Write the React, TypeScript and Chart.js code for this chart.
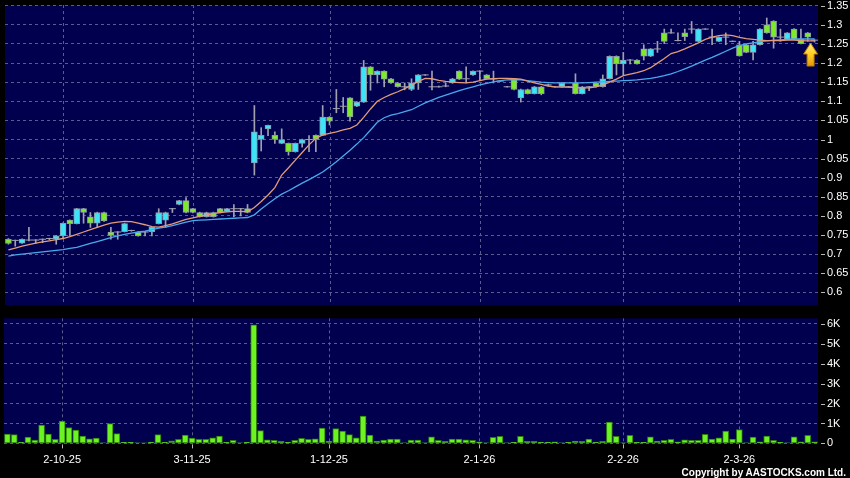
import React, { useEffect, useRef } from 'react';
import { Chart, registerables } from 'chart.js';

Chart.register(...registerables);

// ---------------- DATA ----------------
const dates = [
  '18-9-25','19-9-25','22-9-25','23-9-25','25-9-25','26-9-25','29-9-25','30-9-25',
  '2-10-25','3-10-25','8-10-25','9-10-25','10-10-25','13-10-25','14-10-25','15-10-25','16-10-25','17-10-25',
  '20-10-25','21-10-25','22-10-25','23-10-25','24-10-25','27-10-25','28-10-25','30-10-25','31-10-25',
  '3-11-25','4-11-25','5-11-25','6-11-25','7-11-25','10-11-25','11-11-25','12-11-25','13-11-25','14-11-25',
  '17-11-25','18-11-25','19-11-25','20-11-25','21-11-25','24-11-25','25-11-25','26-11-25','27-11-25','28-11-25',
  '1-12-25','2-12-25','3-12-25','4-12-25','5-12-25','8-12-25','9-12-25','10-12-25','11-12-25','12-12-25',
  '15-12-25','16-12-25','17-12-25','18-12-25','19-12-25','22-12-25','23-12-25','24-12-25','26-12-25',
  '29-12-25','30-12-25','31-12-25',
  '2-1-26','5-1-26','6-1-26','7-1-26','8-1-26','9-1-26','12-1-26','13-1-26','14-1-26','15-1-26','16-1-26',
  '19-1-26','20-1-26','21-1-26','22-1-26','23-1-26','26-1-26','27-1-26','28-1-26','29-1-26','30-1-26',
  '2-2-26','3-2-26','4-2-26','5-2-26','6-2-26','9-2-26','10-2-26','11-2-26','12-2-26','13-2-26','16-2-26',
  '20-2-26','23-2-26','24-2-26','25-2-26','26-2-26','27-2-26',
  '2-3-26','3-3-26','4-3-26','5-3-26','6-3-26','9-3-26','10-3-26','11-3-26','12-3-26','13-3-26','16-3-26','17-3-26',
];

const tickDates = ['2-10-25', '3-11-25', '1-12-25', '2-1-26', '2-2-26', '2-3-26'];

const open = [
  0.739,0.736,0.729,0.737,0.737,0.739,0.741,0.739,0.748,0.789,
  0.780,0.819,0.798,0.781,0.809,0.758,0.758,0.759,0.762,0.758,
  0.758,0.759,0.780,0.789,0.819,0.830,0.840,0.819,0.809,0.798,
  0.809,0.819,0.812,0.819,0.819,0.819,0.939,1.000,1.028,1.011,
  0.990,0.990,0.968,0.990,1.000,1.011,1.011,1.059,1.081,1.087,
  1.109,1.087,1.098,1.190,1.169,1.179,1.159,1.148,1.138,1.131,
  1.148,1.169,1.138,1.138,1.140,1.148,1.179,1.159,1.169,1.179,
  1.169,1.159,1.153,1.138,1.159,1.109,1.131,1.120,1.138,1.143,
  1.138,1.138,1.138,1.148,1.120,1.138,1.148,1.138,1.159,1.218,
  1.198,1.208,1.208,1.237,1.218,1.237,1.279,1.279,1.259,1.279,
  1.289,1.257,1.289,1.268,1.257,1.268,1.257,1.248,1.248,1.228,
  1.248,1.300,1.310,1.268,1.262,1.289,1.262,1.279,1.260,
];
const high = [
  0.741,0.737,0.740,0.770,0.738,0.740,0.742,0.749,0.782,0.790,
  0.820,0.820,0.809,0.810,0.810,0.770,0.759,0.781,0.763,0.759,
  0.759,0.771,0.819,0.810,0.820,0.841,0.848,0.820,0.810,0.810,
  0.810,0.820,0.820,0.830,0.820,0.830,1.089,1.031,1.038,1.020,
  1.028,0.991,0.991,1.001,1.010,1.012,1.089,1.060,1.131,1.110,
  1.110,1.099,1.207,1.191,1.180,1.180,1.160,1.149,1.148,1.159,
  1.170,1.170,1.179,1.140,1.148,1.160,1.180,1.190,1.180,1.180,
  1.170,1.179,1.155,1.139,1.160,1.132,1.132,1.139,1.139,1.145,
  1.139,1.149,1.139,1.172,1.139,1.139,1.149,1.169,1.219,1.219,
  1.228,1.209,1.209,1.248,1.238,1.257,1.289,1.289,1.279,1.289,
  1.309,1.290,1.290,1.289,1.269,1.279,1.258,1.257,1.249,1.257,
  1.290,1.318,1.311,1.289,1.280,1.290,1.289,1.280,1.261,
];
const low = [
  0.726,0.721,0.728,0.735,0.728,0.730,0.738,0.726,0.741,0.748,
  0.779,0.781,0.770,0.770,0.786,0.739,0.739,0.758,0.760,0.747,
  0.748,0.748,0.779,0.770,0.809,0.829,0.808,0.808,0.797,0.797,
  0.797,0.808,0.811,0.798,0.800,0.808,0.907,0.970,1.010,0.990,
  0.989,0.959,0.967,0.980,0.968,0.968,1.010,1.038,1.070,1.070,
  1.048,1.086,1.097,1.129,1.148,1.138,1.147,1.137,1.130,1.128,
  1.131,1.168,1.130,1.137,1.138,1.147,1.157,1.148,1.168,1.155,
  1.158,1.148,1.152,1.137,1.130,1.098,1.119,1.119,1.117,1.140,
  1.137,1.137,1.137,1.119,1.119,1.128,1.137,1.137,1.158,1.169,
  1.169,1.198,1.197,1.208,1.217,1.228,1.251,1.278,1.258,1.259,
  1.278,1.256,1.288,1.248,1.256,1.248,1.256,1.218,1.227,1.208,
  1.247,1.278,1.239,1.257,1.261,1.261,1.250,1.257,1.255,
];
const close = [
  0.728,0.736,0.739,0.737,0.737,0.739,0.741,0.748,0.781,0.780,
  0.819,0.809,0.781,0.809,0.787,0.749,0.758,0.780,0.762,0.748,
  0.758,0.770,0.809,0.809,0.819,0.840,0.809,0.809,0.798,0.809,
  0.798,0.809,0.819,0.819,0.819,0.809,1.020,1.011,1.037,1.000,
  1.000,0.968,0.990,1.000,1.000,1.000,1.059,1.048,1.081,1.087,
  1.059,1.098,1.190,1.169,1.179,1.158,1.148,1.138,1.138,1.148,
  1.169,1.169,1.138,1.138,1.140,1.159,1.158,1.159,1.179,1.179,
  1.159,1.159,1.153,1.138,1.131,1.131,1.120,1.138,1.120,1.143,
  1.138,1.148,1.138,1.120,1.138,1.138,1.138,1.159,1.218,1.198,
  1.208,1.208,1.198,1.218,1.237,1.237,1.257,1.279,1.259,1.269,
  1.289,1.289,1.289,1.268,1.268,1.268,1.257,1.219,1.228,1.248,
  1.289,1.279,1.268,1.268,1.279,1.262,1.251,1.268,1.260,
];

const ma10 = [
  0.711,0.716,0.721,0.725,0.729,0.732,0.735,0.738,0.741,0.746,
  0.752,0.758,0.764,0.770,0.776,0.781,0.784,0.786,0.785,0.781,
  0.777,0.772,0.771,0.775,0.779,0.785,0.791,0.795,0.799,0.803,
  0.806,0.809,0.811,0.812,0.812,0.811,0.822,0.838,0.855,0.874,
  0.907,0.926,0.946,0.966,0.986,1.003,1.012,1.016,1.020,1.025,
  1.029,1.038,1.058,1.080,1.100,1.110,1.118,1.125,1.133,1.142,
  1.152,1.160,1.159,1.155,1.152,1.150,1.149,1.148,1.150,1.154,
  1.158,1.159,1.160,1.160,1.159,1.158,1.153,1.148,1.144,1.140,
  1.138,1.137,1.137,1.136,1.135,1.135,1.138,1.143,1.150,1.158,
  1.167,1.171,1.175,1.180,1.188,1.200,1.212,1.225,1.230,1.237,
  1.245,1.253,1.262,1.268,1.272,1.274,1.272,1.267,1.264,1.262,
  1.260,1.259,1.259,1.259,1.260,1.260,1.259,1.258,1.258,
];
const ma20 = [
  0.695,0.698,0.700,0.702,0.704,0.706,0.708,0.710,0.712,0.715,
  0.718,0.723,0.728,0.733,0.738,0.743,0.748,0.752,0.755,0.758,
  0.760,0.764,0.768,0.771,0.775,0.779,0.784,0.788,0.789,0.790,
  0.791,0.792,0.793,0.794,0.795,0.796,0.803,0.818,0.832,0.845,
  0.857,0.866,0.876,0.886,0.895,0.905,0.915,0.928,0.942,0.957,
  0.972,0.988,1.005,1.025,1.045,1.057,1.064,1.068,1.073,1.078,
  1.087,1.096,1.103,1.110,1.116,1.122,1.128,1.133,1.138,1.143,
  1.147,1.151,1.154,1.156,1.157,1.156,1.154,1.152,1.150,1.149,
  1.148,1.148,1.148,1.148,1.148,1.149,1.150,1.151,1.152,1.153,
  1.154,1.155,1.156,1.158,1.160,1.163,1.167,1.172,1.178,1.185,
  1.192,1.200,1.208,1.215,1.223,1.231,1.239,1.246,1.250,1.253,
  1.256,1.258,1.260,1.261,1.262,1.263,1.263,1.263,1.263,
];

// volume in thousands of shares
const volume = [
  0.47,0.44,0.05,0.32,0.17,0.92,0.47,0.20,1.12,0.79,
  0.67,0.37,0.23,0.27,0.03,0.99,0.49,0.05,0.05,0.03,
  0.01,0.07,0.44,0.05,0.13,0.20,0.42,0.27,0.20,0.20,
  0.28,0.37,0.05,0.15,0.02,0.07,5.95,0.64,0.18,0.15,
  0.10,0.05,0.15,0.25,0.20,0.23,0.77,0.12,0.74,0.62,
  0.44,0.28,1.37,0.42,0.12,0.17,0.22,0.22,0.03,0.17,
  0.17,0.02,0.33,0.15,0.10,0.22,0.22,0.18,0.15,0.08,
  0.02,0.30,0.35,0.02,0.05,0.35,0.10,0.10,0.05,0.05,
  0.08,0.02,0.05,0.12,0.10,0.22,0.07,0.10,1.07,0.35,
  0.02,0.40,0.05,0.05,0.33,0.12,0.15,0.20,0.08,0.18,
  0.15,0.15,0.45,0.22,0.28,0.62,0.22,0.70,0.03,0.32,
  0.08,0.37,0.15,0.05,0.02,0.33,0.08,0.40,0.08,
];

const priceTicks = [0.6,0.65,0.7,0.75,0.8,0.85,0.9,0.95,1,1.05,1.1,1.15,1.2,1.25,1.3,1.35];
const volumeTicks = [0, 1, 2, 3, 4, 5, 6];

// ---------------- STYLE ----------------
const FONT = "'Liberation Sans', Arial, Helvetica, sans-serif";
const PLOT_BG = '#00004e';
const GRID = '#5c5c8c';
const TICK_MARK = '#b8b8b8';
const UP = '#3de3f6';
const DOWN = '#7deb2a';
const BODY_BORDER = '#8d9aa8';
const WICK = '#a0a0b0';

const bgPlugin = {
  id: 'bgPlugin',
  beforeDraw(chart: any) {
    const { ctx, chartArea: a, width, height } = chart;
    ctx.save();
    ctx.fillStyle = '#000';
    ctx.fillRect(0, 0, width, height);
    ctx.fillStyle = PLOT_BG;
    ctx.fillRect(a.left, a.top, a.right - a.left, a.bottom - a.top);
    ctx.restore();
  },
};

// vertical dashed grid lines at the dated ticks + small tick marks on the axes
const makeMarksPlugin = (tickIdx: number[], axisTicks: boolean) => ({
  id: 'marksPlugin',
  beforeDatasetsDraw(chart: any) {
    const { ctx, chartArea: a } = chart;
    const xs = chart.scales.x;
    ctx.save();
    ctx.strokeStyle = GRID;
    ctx.lineWidth = 1;
    ctx.setLineDash([3, 3]);
    tickIdx.forEach((i) => {
      const x = Math.round(xs.getPixelForValue(i)) + 0.5;
      ctx.beginPath();
      ctx.moveTo(x, a.top);
      ctx.lineTo(x, a.bottom);
      ctx.stroke();
    });
    ctx.restore();
  },
  afterDraw(chart: any) {
    const { ctx, chartArea: a } = chart;
    const xs = chart.scales.x;
    const ys = chart.scales.y;
    ctx.save();
    ctx.strokeStyle = TICK_MARK;
    ctx.lineWidth = 1;
    ys.ticks.forEach((t: any) => {
      const y = Math.round(ys.getPixelForValue(t.value)) + 0.5;
      ctx.beginPath();
      ctx.moveTo(a.right + 3, y);
      ctx.lineTo(a.right + 7, y);
      ctx.stroke();
    });
    if (axisTicks) {
      tickIdx.forEach((i) => {
        const x = Math.round(xs.getPixelForValue(i)) + 0.5;
        ctx.beginPath();
        ctx.moveTo(x, a.bottom + 1);
        ctx.lineTo(x, a.bottom + 5);
        ctx.stroke();
      });
    }
    ctx.restore();
  },
});

const arrowPlugin = {
  id: 'arrowPlugin',
  afterDatasetsDraw(chart: any) {
    const last = close.length - 1;
    const xs = chart.scales.x;
    const ys = chart.scales.y;
    const cx = xs.getPixelForValue(last) - 4;
    const tip = ys.getPixelForValue(low[last]) + 1;
    const headH = 11, headW = 14, shaftW = 7, total = 23;
    const ctx = chart.ctx;
    ctx.save();
    const g = ctx.createLinearGradient(0, tip, 0, tip + total);
    g.addColorStop(0, '#fff07a');
    g.addColorStop(0.5, '#ffcc22');
    g.addColorStop(1, '#e39a0a');
    ctx.fillStyle = g;
    ctx.strokeStyle = '#b87800';
    ctx.lineWidth = 1;
    ctx.beginPath();
    ctx.moveTo(cx, tip);
    ctx.lineTo(cx + headW / 2, tip + headH);
    ctx.lineTo(cx + shaftW / 2, tip + headH);
    ctx.lineTo(cx + shaftW / 2, tip + total);
    ctx.lineTo(cx - shaftW / 2, tip + total);
    ctx.lineTo(cx - shaftW / 2, tip + headH);
    ctx.lineTo(cx - headW / 2, tip + headH);
    ctx.closePath();
    ctx.fill();
    ctx.stroke();
    ctx.restore();
  },
};

function fmtPrice(v: number) {
  return String(Math.round(v * 100) / 100);
}

export default function App() {
  const priceRef = useRef<HTMLCanvasElement>(null);
  const volRef = useRef<HTMLCanvasElement>(null);

  useEffect(() => {
    document.body.style.margin = '0';
    const tickIdx = tickDates.map((d) => dates.indexOf(d));

    const wickData = high.map((h, i) => [low[i], h]);
    const bodyData = open.map((o, i) => (o === close[i] ? null : [Math.min(o, close[i]), Math.max(o, close[i])]));
    const bodyColors = open.map((o, i) => (close[i] > o ? UP : DOWN));
    const dojiData = open.map((o, i) => (o === close[i] ? o : null));

    const priceChart = new Chart(priceRef.current as HTMLCanvasElement, {
      data: {
        labels: dates,
        datasets: [
          { type: 'line', label: 'MA10', data: ma10, borderColor: '#e39b78', borderWidth: 1.3, pointRadius: 0, order: 0 } as any,
          { type: 'line', label: 'MA20', data: ma20, borderColor: '#4aa8ec', borderWidth: 1.3, pointRadius: 0, order: 0 } as any,
          {
            type: 'line', label: 'doji', data: dojiData, showLine: false, pointStyle: 'line',
            pointRadius: 3.5, borderColor: WICK, borderWidth: 1, order: 1,
          } as any,
          {
            type: 'bar', label: 'body', data: bodyData, backgroundColor: bodyColors, borderColor: BODY_BORDER,
            borderWidth: 1, borderSkipped: false, barThickness: 6, grouped: false, order: 2,
          } as any,
          {
            type: 'bar', label: 'wick', data: wickData, backgroundColor: WICK,
            barThickness: 1, grouped: false, order: 3,
          } as any,
        ],
      },
      options: {
        responsive: false,
        animation: false,
        events: [],
        layout: { padding: { left: 4, top: 5, right: 0, bottom: 4 } },
        plugins: { legend: { display: false }, tooltip: { enabled: false } },
        scales: {
          x: {
            type: 'category',
            offset: true,
            afterBuildTicks: (s: any) => { s.ticks = tickIdx.map((v) => ({ value: v })); },
            afterFit: (s: any) => { s.height = 0; s.paddingLeft = 0; s.paddingRight = 0; },
            ticks: { display: false, autoSkip: false },
            grid: { display: false },
            border: { display: false },
          },
          y: {
            position: 'right',
            min: 0.567,
            max: 1.352,
            afterBuildTicks: (s: any) => { s.ticks = priceTicks.map((v) => ({ value: v })); },
            afterFit: (s: any) => { s.width = 32; s.paddingTop = 0; s.paddingBottom = 0; },
            ticks: {
              color: '#ffffff', padding: 9, font: { family: FONT, size: 11 },
              callback: (v: any) => fmtPrice(Number(v)),
            },
            grid: { color: GRID, drawTicks: false },
            border: { display: false, dash: [3, 3] },
          },
        },
      } as any,
      plugins: [bgPlugin, makeMarksPlugin(tickIdx, false), arrowPlugin],
    });

    const volChart = new Chart(volRef.current as HTMLCanvasElement, {
      type: 'bar',
      data: {
        labels: dates,
        datasets: [
          {
            label: 'Volume', data: volume, backgroundColor: '#6cf321', borderColor: '#2c7d0c',
            borderWidth: 1, borderSkipped: false, barThickness: 6,
          } as any,
        ],
      },
      options: {
        responsive: false,
        animation: false,
        events: [],
        layout: { padding: { left: 4, top: 8.3, right: 0, bottom: 14.6 } },
        plugins: { legend: { display: false }, tooltip: { enabled: false } },
        scales: {
          x: {
            type: 'category',
            offset: true,
            afterBuildTicks: (s: any) => { s.ticks = tickIdx.map((v) => ({ value: v })); },
            afterFit: (s: any) => { s.height = 20; s.paddingLeft = 0; s.paddingRight = 0; },
            ticks: { color: '#ffffff', autoSkip: false, maxRotation: 0, padding: 10, font: { family: FONT, size: 11 } },
            grid: { display: true, drawOnChartArea: false, drawTicks: false },
            border: { display: false },
          },
          y: {
            position: 'right',
            min: 0,
            max: 6.28,
            afterBuildTicks: (s: any) => { s.ticks = volumeTicks.map((v) => ({ value: v })); },
            afterFit: (s: any) => { s.width = 32; s.paddingTop = 0; s.paddingBottom = 0; },
            ticks: {
              color: '#ffffff', padding: 9, font: { family: FONT, size: 11 },
              callback: (v: any) => (Number(v) === 0 ? '0' : `${v}K`),
            },
            grid: { color: GRID, drawTicks: false },
            border: { display: false, dash: [3, 3] },
          },
        },
      } as any,
      plugins: [bgPlugin, makeMarksPlugin(tickIdx, true)],
    });

    return () => {
      priceChart.destroy();
      volChart.destroy();
    };
  }, []);

  return (
    <div style={{ position: 'fixed', left: 0, top: 0, width: 850, height: 478, background: '#000', overflow: 'hidden' }}>
      <canvas ref={priceRef} width={850} height={310} style={{ position: 'absolute', left: 0, top: 0, width: 850, height: 310 }} />
      <canvas ref={volRef} width={850} height={168} style={{ position: 'absolute', left: 0, top: 310, width: 850, height: 168 }} />
      <div
        style={{
          position: 'absolute', right: 4, top: 468, lineHeight: '10px', fontSize: 10, fontWeight: 'bold',
          fontFamily: FONT, color: '#ffffff', whiteSpace: 'nowrap',
        }}
      >
        Copyright by AASTOCKS.com Ltd.
      </div>
    </div>
  );
}
